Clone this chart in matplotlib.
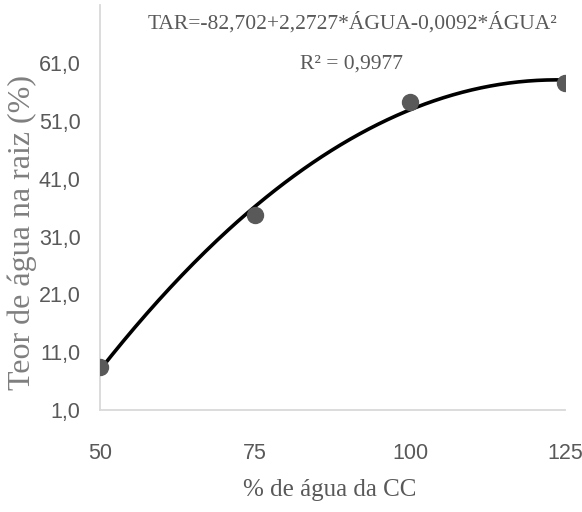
import numpy as np
import matplotlib
matplotlib.use("Agg")
import matplotlib.pyplot as plt

# Data
agua_cc = [50, 75, 100, 125]
teor_agua = [8.4, 34.8, 54.3, 57.6]
y_ticks = [1, 11, 21, 31, 41, 51, 61]
y_tick_labels = ["1,0", "11,0", "21,0", "31,0", "41,0", "51,0", "61,0"]
equation = "TAR=-82,702+2,2727*ÁGUA-0,0092*ÁGUA²"
r2_text = "R² = 0,9977"

TEXT = "#595959"
SERIF = ["Liberation Serif", "DejaVu Serif"]
SANS = ["Liberation Sans", "DejaVu Sans"]

fig = plt.figure(figsize=(5.82, 5.12), dpi=100)
ax = fig.add_axes([0.1718, 0.199, 0.799, 0.791])

# Polynomial (order 2) trendline fitted to the points, as in Excel
coef = np.polyfit(agua_cc, teor_agua, 2)
xs = np.linspace(min(agua_cc), max(agua_cc), 200)
ax.plot(xs, np.polyval(coef, xs), color="black", lw=2.6, zorder=2)
ax.plot(agua_cc, teor_agua, "o", color="#595959", ms=11.5, zorder=3)

ax.set_xlim(50, 125)
ax.set_ylim(1, 71)
ax.set_xticks(agua_cc)
ax.set_xticklabels([str(v) for v in agua_cc])
ax.set_yticks(y_ticks)
ax.set_yticklabels(y_tick_labels)
ax.tick_params(length=0, colors=TEXT, labelsize=15.5)
ax.tick_params(axis="x", pad=24)
ax.tick_params(axis="y", pad=14)
for lab in ax.get_xticklabels() + ax.get_yticklabels():
    lab.set_family(SANS)

for side in ["top", "right"]:
    ax.spines[side].set_visible(False)
for side in ["left", "bottom"]:
    ax.spines[side].set_color("#d9d9d9")
    ax.spines[side].set_linewidth(1.3)

fig.text(0.038, 0.546, "Teor de água na raiz (%)", rotation=90, ha="center",
         va="center", fontsize=23, color="#7f7f7f", family=SERIF)
fig.text(0.567, 0.043, "% de água da CC", ha="center", va="center",
         fontsize=18, color=TEXT, family=SERIF)

fig.text(0.606, 0.955, equation, ha="center", va="center", fontsize=15.5,
         color=TEXT, family=SERIF)
fig.text(0.604, 0.875, r2_text, ha="center", va="center", fontsize=15.5,
         color=TEXT, family=SERIF)

fig.savefig("out.png", dpi=100)
